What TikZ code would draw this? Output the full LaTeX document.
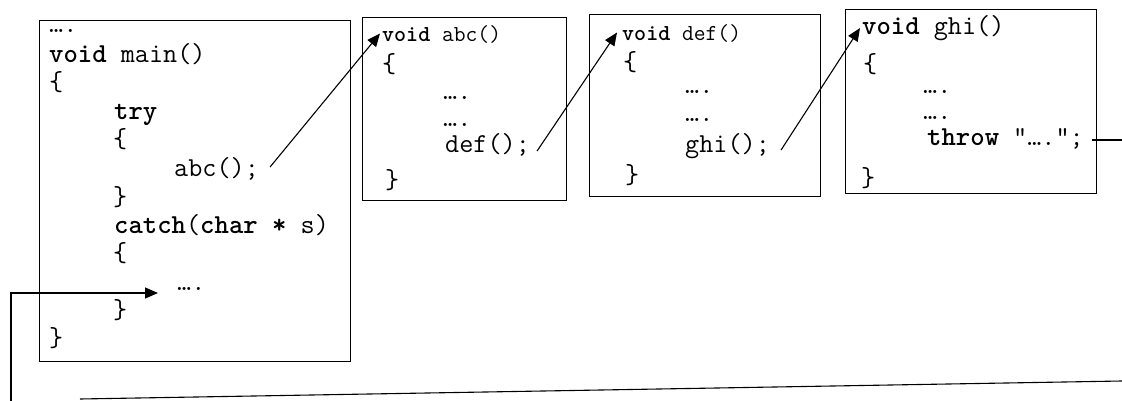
\documentclass[tikz,border=0pt]{standalone}
\usepackage{fontspec}
\usetikzlibrary{arrows.meta}
\newcommand\codefont{\ttfamily\fontsize{27.4}{32}\selectfont}
\newcommand\headfont{\ttfamily\fontsize{22.9}{27}\selectfont}
\begin{document}
\begin{tikzpicture}[x=1pt,y=-1pt,
  box/.style={draw, line width=1.3pt, inner sep=0pt, anchor=north west},
  code/.style={font=\codefont, inner sep=0pt, anchor=base west, text height=16pt, text depth=4pt},
  head/.style={font=\headfont, inner sep=0pt, anchor=base west, text height=14pt, text depth=3pt},
  link/.style={line width=1.1pt},
  call/.style={link, -{Triangle[length=13pt,width=11pt]}}]
\useasboundingbox (0,0) rectangle (1122,401);

% main()
\node[box, minimum width=311pt, minimum height=341pt] (mainBox) at (39,20) {};
\node[code] (mDots)      at (49,33)   {….};
\node[code] (mainHead)   at (49,63)   {\textbf{void} main()};
\node[code] (mOpen)      at (49,91)   {\{};
\node[code] (tryKw)      at (114,120) {\textbf{try}};
\node[code] (tryOpen)    at (113,148) {\{};
\node[code] (abcCall)    at (174,177) {abc();};
\node[code] (tryClose)   at (113,205) {\}};
\node[code] (catchKw)    at (114,233) {\textbf{catch}(\textbf{char *} s)};
\node[code] (catchOpen)  at (113,261) {\{};
\node[code] (catchDots)  at (177,290) {….};
\node[code] (catchClose) at (113,318) {\}};
\node[code] (mClose)     at (49,346)  {\}};

% abc()
\node[box, minimum width=204pt, minimum height=183pt] (abcBox) at (362,17) {};
\node[head] (abcHead)  at (382,42)  {\textbf{void} abc()};
\node[code] (abcOpen)  at (382,73)  {\{};
\node[code] (abcDotsA) at (443,100) {….};
\node[code] (abcDotsB) at (443,127) {….};
\node[code] (defCall)  at (445,153) {def();};
\node[code] (abcClose) at (385,189) {\}};

% def()
\node[box, minimum width=231pt, minimum height=182pt] (defBox) at (589,14) {};
\node[head] (defHead)  at (622,41)  {\textbf{void} def()};
\node[code] (defOpen)  at (623,71)  {\{};
\node[code] (defDotsA) at (685,94)  {….};
\node[code] (defDotsB) at (685,122) {….};
\node[code] (ghiCall)  at (685,153) {ghi();};
\node[code] (defClose) at (625,183) {\}};

% ghi()
\node[box, minimum width=251pt, minimum height=184pt] (ghiBox) at (845,9) {};
\node[code] (ghiHead)   at (862,35)  {\textbf{void} ghi()};
\node[code] (ghiOpen)   at (863,73)  {\{};
\node[code] (ghiDotsA)  at (923,94)  {….};
\node[code] (ghiDotsB)  at (923,120) {….};
\node[code] (throwStmt) at (927,146) {\textbf{throw} “….”;};
\node[code] (ghiClose)  at (861,186) {\}};

% calls
\draw[call] ([xshift=11pt,yshift=4pt]abcCall.east) -- ([xshift=-2pt,yshift=3pt]abcHead.west);
\draw[call] ([xshift=7pt,yshift=-4pt]defCall.east) -- ([xshift=-5pt,yshift=3pt]defHead.west);
\draw[call] ([xshift=11pt,yshift=-3pt]ghiCall.east) -- ([xshift=-2pt,yshift=1pt]ghiHead.west);

% exception path back to the handler
\coordinate (exitR) at (1122,140);
\coordinate (retRight) at (1122,381);
\coordinate (retLeft) at (80,399);
\coordinate (retBottom) at (11,401);
\coordinate (retCorner) at (11,293);
\draw[link] ([xshift=8pt]throwStmt.east) -- (exitR);
\draw[link] (retRight) -- (retLeft);
\draw[call] (retBottom) -- (retCorner) -- ([xshift=-19pt,yshift=-9pt]catchDots.west);
\end{tikzpicture}
\end{document}
